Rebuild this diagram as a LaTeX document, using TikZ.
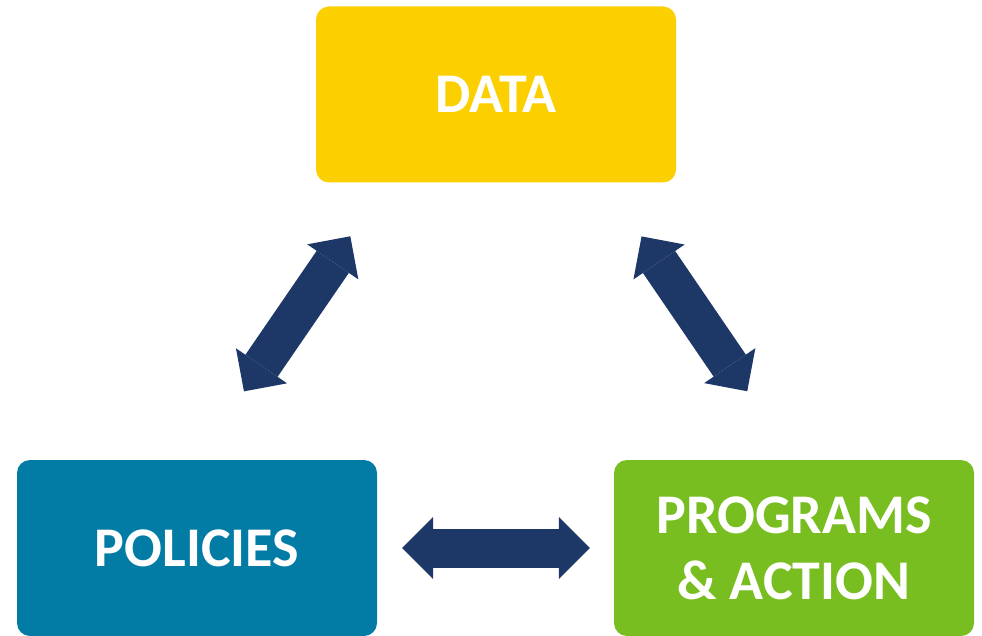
\documentclass[tikz,border=0pt]{standalone}
\usepackage{fontspec}
\setmainfont{Carlito}
\usetikzlibrary{arrows.meta}

\definecolor{datayellow}{HTML}{FCCF00}
\definecolor{policyblue}{HTML}{027CA5}
\definecolor{actiongreen}{HTML}{78BE20}
\definecolor{arrownavy}{HTML}{1D3866}

\tikzset{
  boxnode/.style={rectangle, rounded corners=13pt, minimum width=360pt, minimum height=176pt,
    inner sep=0pt, text=white, align=center, font=\fontsize{56}{66}\selectfont\bfseries},
  fatarrow/.style={draw=arrownavy, line width=39pt,
    {Triangle[length=31pt,width=62pt,line width=0pt]}-{Triangle[length=31pt,width=62pt,line width=0pt]}}
}

\begin{document}
\begin{tikzpicture}[x=1pt, y=-1pt]
  \useasboundingbox (0, 0) rectangle (982, 636);

  \node[boxnode, fill=datayellow] (data) at (496, 94.5) {DATA};
  \node[boxnode, fill=policyblue] (pol) at (197, 548) {POLICIES};
  \node[boxnode, fill=actiongreen] (prog) at (794, 548) {PROGRAMS\\\& ACTION};

  \draw[fatarrow, shorten <=83pt, shorten >=65pt] (pol.north) -- (data.219);
  \draw[fatarrow, shorten <=83pt, shorten >=65pt] (prog.north) -- (data.321);
  \draw[fatarrow, shorten <=25pt, shorten >=24pt] (pol.east) -- (prog.west);
\end{tikzpicture}
\end{document}
